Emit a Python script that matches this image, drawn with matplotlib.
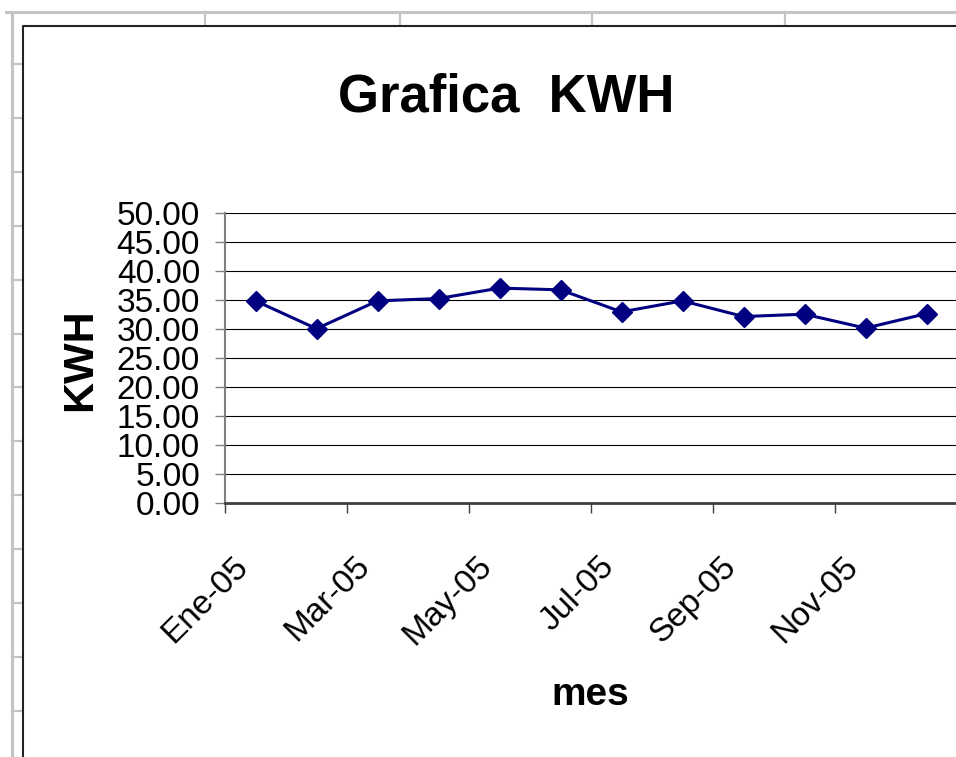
import numpy as np
import matplotlib.pyplot as plt
from matplotlib.lines import Line2D
from matplotlib.transforms import ScaledTranslation

months = ["Ene-05", "Feb-05", "Mar-05", "Abr-05", "May-05", "Jun-05",
          "Jul-05", "Ago-05", "Sep-05", "Oct-05", "Nov-05", "Dic-05"]
kwh = [34.8, 30.0, 34.8, 35.2, 37.0, 36.7, 32.9, 34.8, 32.1, 32.5, 30.1, 32.6]
y_ticks = np.arange(0, 55, 5)

W, H = 956, 757
fig = plt.figure(figsize=(W / 100, H / 100), dpi=100)
fig.patch.set_facecolor("white")


def px(x, y):
    return x / W, 1 - y / H


# spreadsheet cell lines behind the chart
grey = "#c4c4c4"
fig.add_artist(Line2D(*zip(px(6, 12), px(W, 12)), color=grey, lw=2.2))
fig.add_artist(Line2D(*zip(px(12, 12), px(12, H)), color=grey, lw=2.2))
for xc in [205, 400, 592, 785]:
    fig.add_artist(Line2D(*zip(px(xc, 12), px(xc, 25)), color=grey, lw=1.6))
for yc in np.arange(64, H, 53.9):
    fig.add_artist(Line2D(*zip(px(12, yc), px(22, yc)), color=grey, lw=1.6))

# chart border
fig.add_artist(Line2D(*zip(px(22.5, H), px(22.5, 25.5), px(W, 25.5)), color="#222222", lw=1.5))

ax = fig.add_axes([225 / W, 1 - 502.7 / H, (957 - 225) / W, 290 / H])
x = np.arange(len(months))
ax.plot(x, kwh, color="#000080", lw=2.2, marker="D", markersize=10.5,
        markerfacecolor="#000080", markeredgecolor="#000080", zorder=3)

ax.set_xlim(-0.5, len(months) - 0.5)
ax.set_ylim(0, 50)
ax.set_yticks(y_ticks)
ax.set_yticklabels([f"{v:.2f}" for v in y_ticks], fontsize=24, family="Liberation Sans")
ax.yaxis.grid(True, color="black", lw=0.8)
ax.set_axisbelow(True)

ax.set_xticks(x[::2])
ax.set_xticklabels(months[::2], fontsize=24, family="Liberation Sans",
                   rotation=45, ha="right", va="baseline", rotation_mode="anchor")
ax.set_xticks(np.arange(-0.5, len(months), 2), minor=True)
ax.tick_params(axis="x", which="major", length=0, pad=46.8)
ax.tick_params(axis="x", which="minor", length=7.2, width=1, color="#404040", direction="out")
ax.tick_params(axis="y", length=7.2, width=1, color="#808080", direction="out", pad=10.8)
off = ScaledTranslation(-6 / 100, 0, fig.dpi_scale_trans)
for lab in ax.get_xticklabels():
    lab.set_transform(lab.get_transform() + off)

for s in ["top", "right"]:
    ax.spines[s].set_visible(False)
ax.spines["left"].set_color("#808080")
ax.spines["left"].set_linewidth(1.5)
ax.spines["bottom"].set_color("#404040")
ax.spines["bottom"].set_linewidth(2)

fig.text(506 / W, 1 - 112 / H, "Grafica  KWH", fontsize=38, fontweight="bold",
         family="Liberation Sans", ha="center", va="baseline")
fig.text(590 / W, 1 - 705 / H, "mes", fontsize=28, fontweight="bold",
         family="Liberation Sans", ha="center", va="baseline")
fig.text(100 / W, 1 - 360 / H, "KWH", fontsize=31, fontweight="bold",
         family="Liberation Sans", rotation=90, ha="right", va="center")

fig.savefig("out.png", dpi=100)
